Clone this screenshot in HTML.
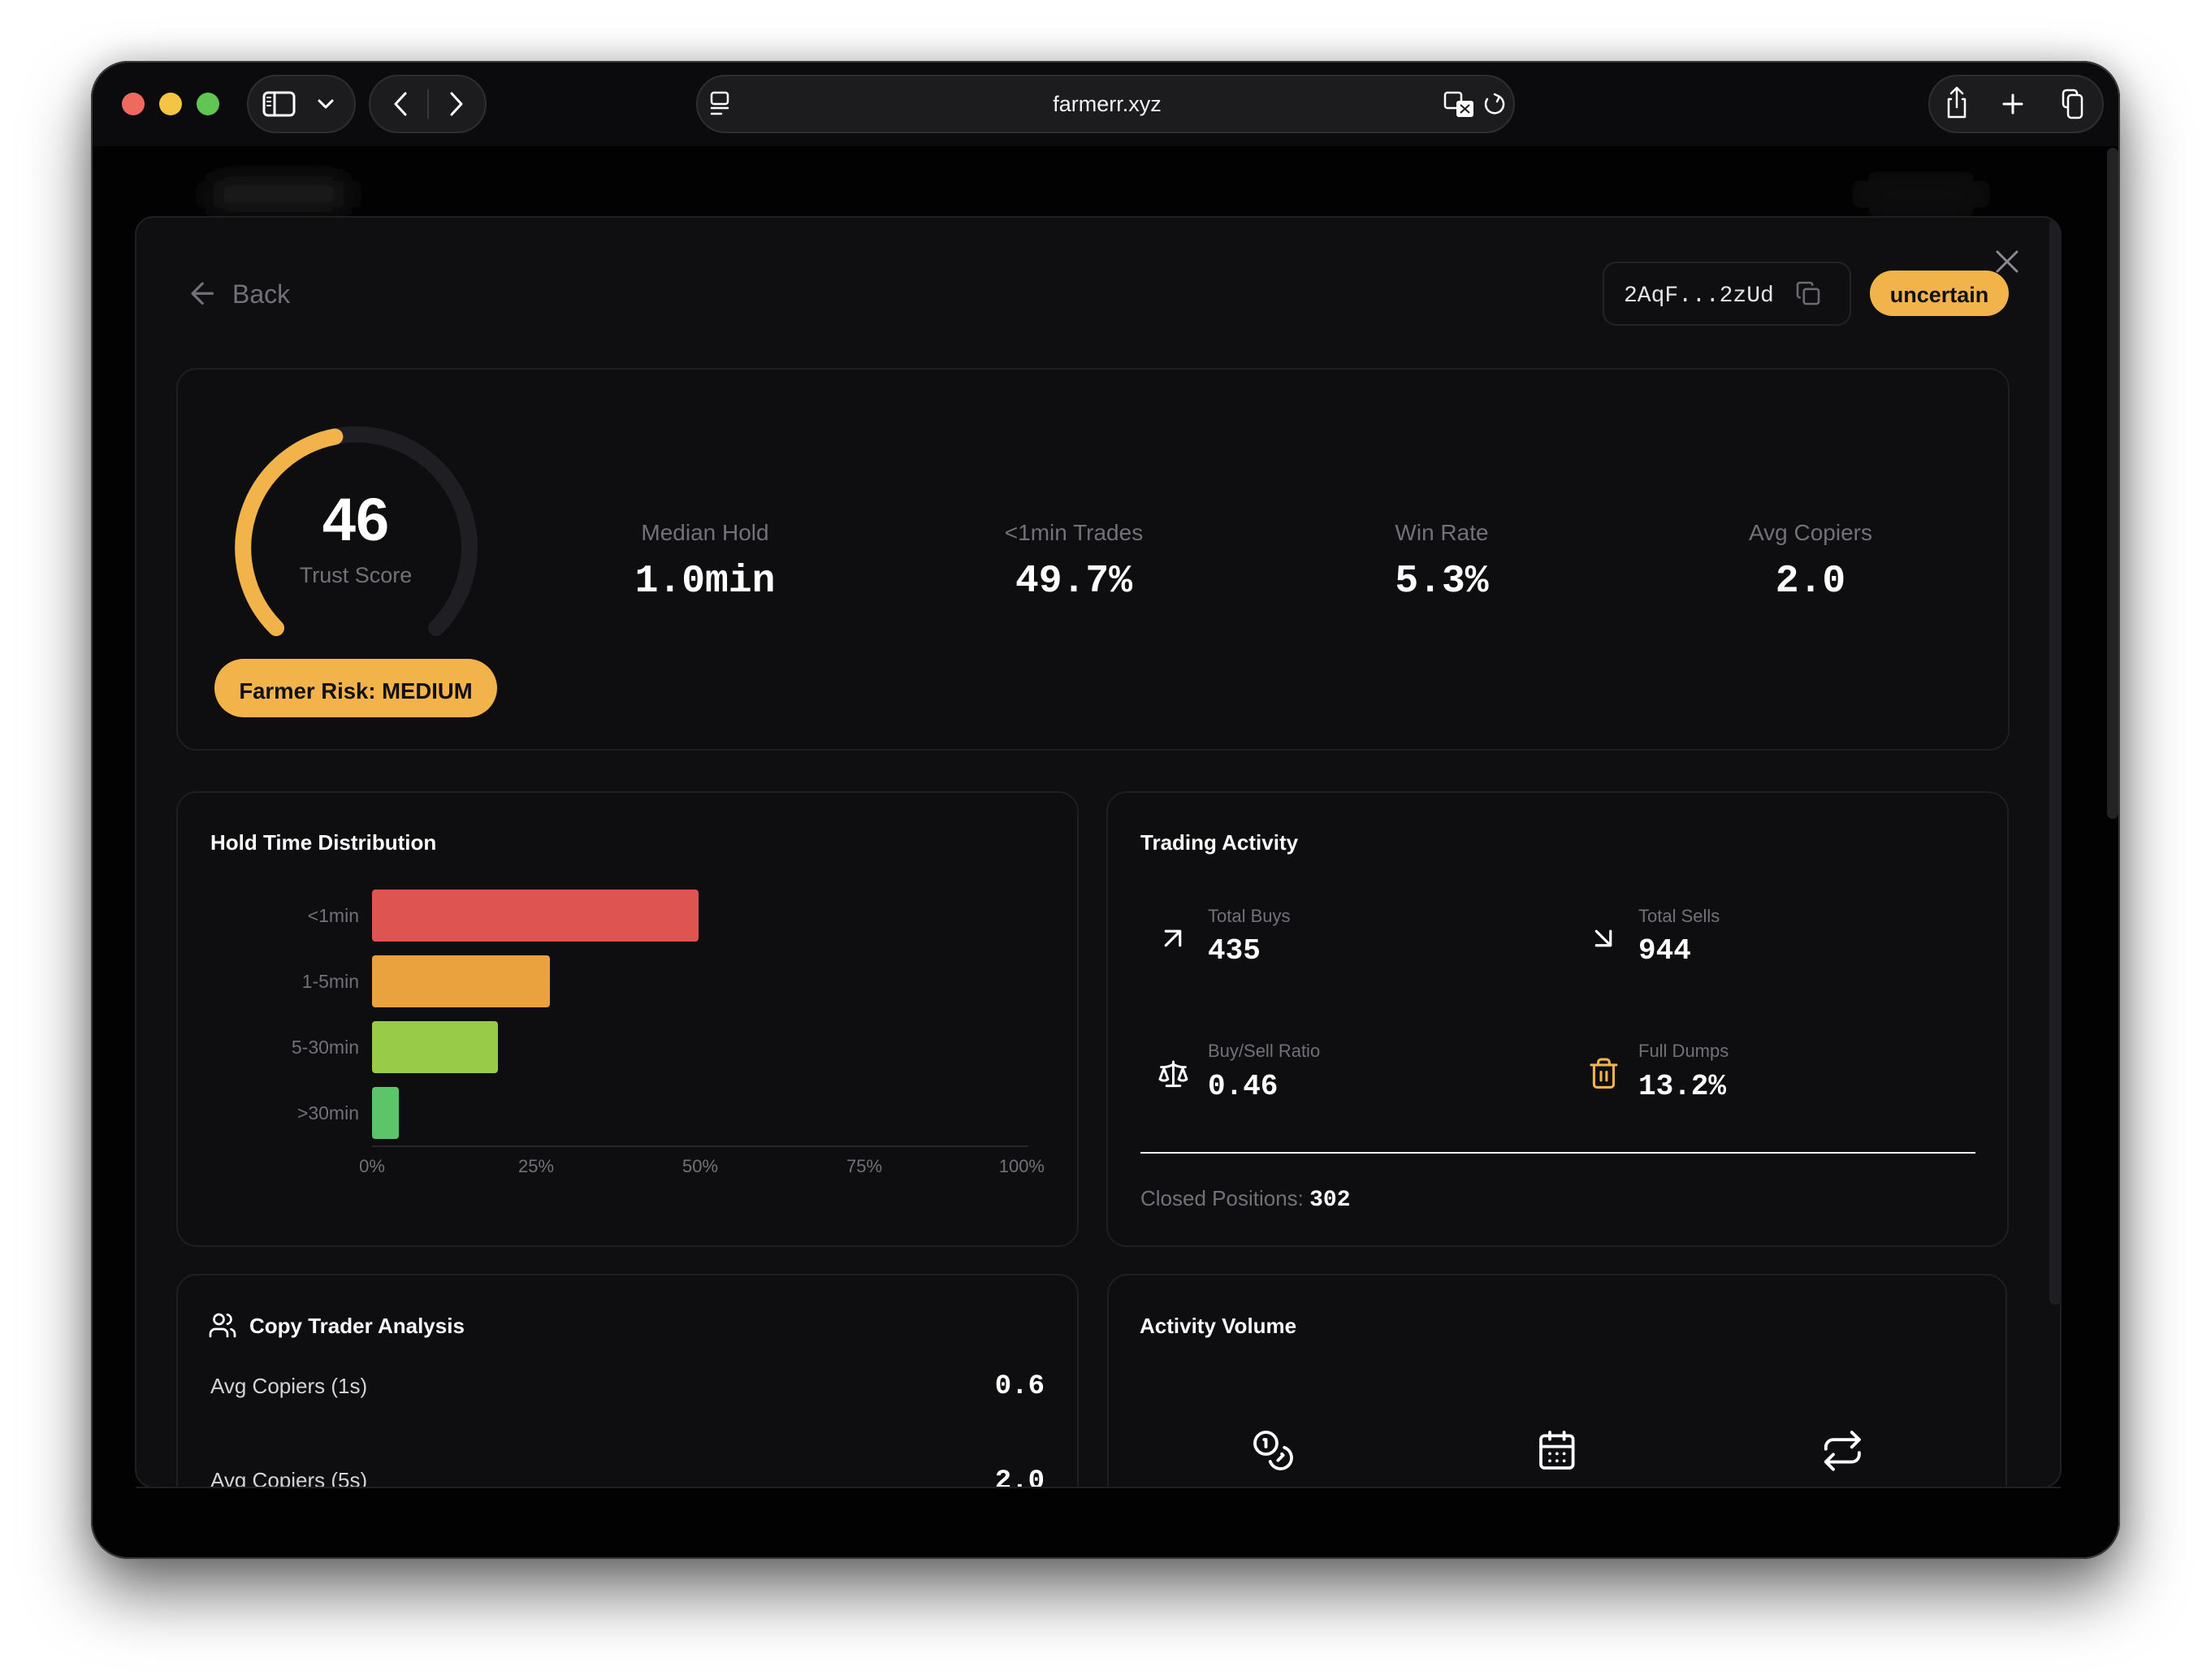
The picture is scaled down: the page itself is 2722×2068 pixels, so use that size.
<!DOCTYPE html>
<html><head><meta charset="utf-8">
<style>
html,body{margin:0;padding:0;background:#fff;width:2722px;height:2068px;overflow:hidden}
#sh{position:absolute;left:112px;top:75px;width:2498px;height:1844px;border-radius:46px;background:#000;box-shadow:0 42px 80px rgba(0,0,0,.55),0 0 40px rgba(0,0,0,.22)}
svg{position:absolute;left:0;top:0}
text{font-family:"Liberation Sans",Arial,sans-serif}
.m{font-family:"Liberation Mono","DejaVu Sans Mono",monospace;font-weight:700}
.mn{font-family:"Liberation Mono","DejaVu Sans Mono",monospace;font-weight:400}
.lab{fill:#71717a}
.ic{fill:none;stroke:#fff;stroke-linecap:round;stroke-linejoin:round}
</style></head><body>
<div id="sh"></div>
<svg width="2722" height="2068" viewBox="0 0 2722 2068" xmlns="http://www.w3.org/2000/svg">
<defs>
 <clipPath id="win"><rect x="112" y="75" width="2498" height="1844" rx="46"/></clipPath>
 <clipPath id="modal"><rect x="167" y="267" width="2370" height="1564" rx="22"/></clipPath>
 <filter id="bl" x="-50%" y="-150%" width="200%" height="400%"><feGaussianBlur stdDeviation="16"/></filter>
</defs>
<g clip-path="url(#win)">
 <rect x="112" y="75" width="2498" height="1844" fill="#020202"/>
 <rect x="112" y="75" width="2498" height="105" fill="#0b0b0d"/>
 <!-- traffic lights -->
 <circle cx="164" cy="128" r="14" fill="#ee6a5e"/>
 <circle cx="210" cy="128" r="14" fill="#f5c443"/>
 <circle cx="256" cy="128" r="14" fill="#61c454"/>
 <!-- sidebar pill -->
 <rect x="305" y="93" width="132" height="70" rx="35" fill="#1c1c1e" stroke="#2e2e30" stroke-width="2"/>
 <rect x="325" y="114" width="37" height="28" rx="5" class="ic" stroke-width="3"/>
 <line x1="338" y1="114" x2="338" y2="142" class="ic" stroke-width="3"/>
 <line x1="329" y1="120" x2="333" y2="120" class="ic" stroke-width="2"/>
 <line x1="329" y1="125" x2="333" y2="125" class="ic" stroke-width="2"/>
 <line x1="329" y1="130" x2="333" y2="130" class="ic" stroke-width="2"/>
 <polyline points="393,124 401,132 409,124" class="ic" stroke-width="3"/>
 <!-- nav pill -->
 <rect x="455" y="93" width="143" height="70" rx="35" fill="#1c1c1e" stroke="#2e2e30" stroke-width="2"/>
 <polyline points="499,115 487,128 499,141" class="ic" stroke-width="3"/>
 <line x1="527" y1="110" x2="527" y2="146" stroke="#38383a" stroke-width="2"/>
 <polyline points="556,115 568,128 556,141" class="ic" stroke="#6b6b6e" stroke-width="3"/>
 <!-- address pill -->
 <rect x="858" y="93" width="1006" height="70" rx="35" fill="#1c1c1e" stroke="#2e2e30" stroke-width="2"/>
 <rect x="876" y="114" width="20" height="14" rx="3" class="ic" stroke-width="2.5"/>
 <line x1="876" y1="133" x2="896" y2="133" class="ic" stroke-width="2.5"/>
 <line x1="876" y1="140" x2="888" y2="140" class="ic" stroke-width="2.5"/>
 <text x="1363" y="137" font-size="27" fill="#f2f2f2" text-anchor="middle">farmerr.xyz</text>
 <rect x="1779" y="114" width="20" height="19" rx="3" class="ic" stroke-width="2.5"/>
 <rect x="1793" y="124" width="21" height="20" rx="3" fill="#fff"/>
 <path d="M1798 139 l11 -10 M1798 129 l11 10" stroke="#1c1c1e" stroke-width="2"/>
 <path d="M1846 119 A11 11 0 1 1 1831 122" class="ic" stroke-width="2.5"/>
 <polyline points="1840,116 1846,119 1843,125" class="ic" stroke-width="2.5"/>
 <!-- right pill -->
 <rect x="2375" y="93" width="214" height="70" rx="35" fill="#1c1c1e" stroke="#2e2e30" stroke-width="2"/>
 <path d="M2402 122 h-3 v22 h20 v-22 h-3" class="ic" stroke-width="2.5"/>
 <path d="M2409 132 V108 M2402 115 l7 -7 l7 7" class="ic" stroke-width="2.5"/>
 <path d="M2467 128 h22 M2478 117 v22" class="ic" stroke-width="3"/>
 <rect x="2540" y="111" width="17" height="21" rx="4" class="ic" stroke-width="2.5"/>
 <rect x="2546" y="117" width="17" height="28" rx="4" fill="#1c1c1e" stroke="#fff" stroke-width="2.5"/>

 <!-- blurred header behind -->
 <rect x="258" y="222" width="170" height="34" rx="10" fill="#242424" filter="url(#bl)"/>
 <rect x="2290" y="222" width="150" height="34" rx="10" fill="#121212" filter="url(#bl)"/>

 <!-- outer scrollbar -->
 <rect x="2594" y="182" width="14" height="826" rx="7" fill="#232326"/>

 <!-- modal -->
 <rect x="167" y="267" width="2370" height="1564" rx="22" fill="#0f0f11" stroke="#1f1f23" stroke-width="2"/>
 <g clip-path="url(#modal)">
  <rect x="2523" y="268" width="15" height="1338" rx="7" fill="#1e1e22"/>

  <!-- back -->
  <g transform="translate(228.25,340.25) scale(1.75)"><path d="m12 19-7-7 7-7M19 12H5" fill="none" stroke="#71717a" stroke-width="1.8" stroke-linecap="round" stroke-linejoin="round"/></g>
  <text x="286" y="373" font-size="32" class="lab">Back</text>

  <!-- address chip -->
  <rect x="1974" y="323" width="304" height="77" rx="16" fill="#0f0f11" stroke="#232327" stroke-width="2"/>
  <text x="1999" y="371" font-size="28" fill="#e4e4e7" class="mn">2AqF...2zUd</text>
  <g transform="translate(2210.4,345.4) scale(1.3)" fill="none" stroke="#6b6b73" stroke-width="2" stroke-linecap="round" stroke-linejoin="round"><rect x="8" y="8" width="14" height="14" rx="2"/><path d="M4 16c-1.1 0-2-.9-2-2V4c0-1.1.9-2 2-2h10c1.1 0 2 .9 2 2"/></g>

  <!-- uncertain -->
  <rect x="2302" y="333" width="171" height="56" rx="28" fill="#f2b44a"/>
  <text x="2387.5" y="372" font-size="27" font-weight="700" fill="#111" text-anchor="middle">uncertain</text>
  <path d="M2459 310 L2483 334 M2483 310 L2459 334" stroke="#8a8a90" stroke-width="3" stroke-linecap="round"/>

  <!-- stats card -->
  <rect x="218" y="454" width="2255" height="469" rx="24" fill="#0e0e10" stroke="#1f1f23" stroke-width="2"/>
  <path d="M340 773 A139.5 139.5 0 1 1 537 773" fill="none" stroke="#1f1f23" stroke-width="20" stroke-linecap="round"/>
  <path d="M340 773 A139.5 139.5 0 0 1 412.4 537.5" fill="none" stroke="#f2b44a" stroke-width="20" stroke-linecap="round"/>
  <text x="438" y="665" font-size="74" font-weight="700" fill="#fff" text-anchor="middle">46</text>
  <text x="438" y="717" font-size="27" class="lab" text-anchor="middle">Trust Score</text>
  <rect x="264" y="811" width="348" height="72" rx="36" fill="#f2b44a"/>
  <text x="438" y="860" font-size="27.5" font-weight="700" fill="#111" text-anchor="middle">Farmer Risk: MEDIUM</text>

  <text x="868" y="665" font-size="28" class="lab" text-anchor="middle">Median Hold</text>
  <text x="868" y="728" font-size="48" class="m" fill="#fff" text-anchor="middle">1.0min</text>
  <text x="1322" y="665" font-size="28" class="lab" text-anchor="middle">&lt;1min Trades</text>
  <text x="1322" y="728" font-size="48" class="m" fill="#fff" text-anchor="middle">49.7%</text>
  <text x="1775" y="665" font-size="28" class="lab" text-anchor="middle">Win Rate</text>
  <text x="1775" y="728" font-size="48" class="m" fill="#fff" text-anchor="middle">5.3%</text>
  <text x="2229" y="665" font-size="28" class="lab" text-anchor="middle">Avg Copiers</text>
  <text x="2229" y="728" font-size="48" class="m" fill="#fff" text-anchor="middle">2.0</text>

  <!-- hold time card -->
  <rect x="218" y="975" width="1109" height="559" rx="24" fill="#0e0e10" stroke="#1f1f23" stroke-width="2"/>
  <text x="259" y="1046" font-size="26" font-weight="700" fill="#fafafa">Hold Time Distribution</text>
  <rect x="458" y="1095" width="402" height="64" rx="4" fill="#de5450"/>
  <rect x="458" y="1176" width="219" height="64" rx="4" fill="#e9a23d"/>
  <rect x="458" y="1257" width="155" height="64" rx="4" fill="#98cb48"/>
  <rect x="458" y="1338" width="33" height="64" rx="4" fill="#5cc56a"/>
  <text x="442" y="1135" font-size="23" class="lab" text-anchor="end">&lt;1min</text>
  <text x="442" y="1216" font-size="23" class="lab" text-anchor="end">1-5min</text>
  <text x="442" y="1297" font-size="23" class="lab" text-anchor="end">5-30min</text>
  <text x="442" y="1378" font-size="23" class="lab" text-anchor="end">&gt;30min</text>
  <line x1="458" y1="1411" x2="1266" y2="1411" stroke="#27272a" stroke-width="2"/>
  <text x="458" y="1443" font-size="22" class="lab" text-anchor="middle">0%</text>
  <text x="660" y="1443" font-size="22" class="lab" text-anchor="middle">25%</text>
  <text x="862" y="1443" font-size="22" class="lab" text-anchor="middle">50%</text>
  <text x="1064" y="1443" font-size="22" class="lab" text-anchor="middle">75%</text>
  <text x="1286" y="1443" font-size="22" class="lab" text-anchor="end">100%</text>

  <!-- trading activity card -->
  <rect x="1363" y="975" width="1109" height="559" rx="24" fill="#0e0e10" stroke="#1f1f23" stroke-width="2"/>
  <text x="1404" y="1046" font-size="26" font-weight="700" fill="#fafafa">Trading Activity</text>
  <g transform="translate(1423,1134) scale(1.75)" class="ic" stroke-width="1.8"><path d="M7 7h10v10M7 17 17 7"/></g>
  <text x="1487" y="1135" font-size="22" class="lab">Total Buys</text>
  <text x="1487" y="1180" font-size="36" class="m" fill="#fff">435</text>
  <g transform="translate(1953,1134) scale(1.75)" class="ic" stroke-width="1.8"><path d="M7 7l10 10M17 7v10H7"/></g>
  <text x="2017" y="1135" font-size="22" class="lab">Total Sells</text>
  <text x="2017" y="1180" font-size="36" class="m" fill="#fff">944</text>
  <g transform="translate(1424.7,1302) scale(1.65)" class="ic" stroke-width="1.8"><path d="m16 16 3-8 3 8c-.87.65-1.92 1-3 1s-2.13-.35-3-1Z"/><path d="m2 16 3-8 3 8c-.87.65-1.92 1-3 1s-2.13-.35-3-1Z"/><path d="M7 21h10M12 3v18M3 7h2c2 0 5-1 7-2 2 1 5 2 7 2h2"/></g>
  <text x="1487" y="1301" font-size="22" class="lab">Buy/Sell Ratio</text>
  <text x="1487" y="1347" font-size="36" class="m" fill="#fff">0.46</text>
  <g transform="translate(1953.8,1300.6) scale(1.72)" fill="none" stroke="#f2b44a" stroke-width="1.8" stroke-linecap="round" stroke-linejoin="round"><path d="M3 6h18M19 6v14c0 1-1 2-2 2H7c-1 0-2-1-2-2V6M8 6V4c0-1 1-2 2-2h4c1 0 2 1 2 2v2M10 11v6M14 11v6"/></g>
  <text x="2017" y="1301" font-size="22" class="lab">Full Dumps</text>
  <text x="2017" y="1347" font-size="36" class="m" fill="#fff">13.2%</text>
  <rect x="1404" y="1418" width="1028" height="2" fill="#f4f4f5"/>
  <text x="1404" y="1484" font-size="26" class="lab">Closed Positions: <tspan class="m" font-size="28" fill="#fff">302</tspan></text>

  <!-- copy trader card -->
  <rect x="218" y="1569" width="1109" height="400" rx="24" fill="#0e0e10" stroke="#1f1f23" stroke-width="2"/>
  <g transform="translate(256,1613.5) scale(1.5)" class="ic" stroke-width="1.8"><path d="M16 21v-2a4 4 0 0 0-4-4H6a4 4 0 0 0-4 4v2"/><circle cx="9" cy="7" r="4"/><path d="M22 21v-2a4 4 0 0 0-3-3.87M16 3.13a4 4 0 0 1 0 7.75"/></g>
  <text x="307" y="1641" font-size="26" font-weight="700" fill="#fafafa">Copy Trader Analysis</text>
  <text x="259" y="1715" font-size="26" fill="#d4d4d8">Avg Copiers (1s)</text>
  <text x="1286" y="1715" font-size="34" class="m" fill="#fff" text-anchor="end">0.6</text>
  <text x="259" y="1831" font-size="26" fill="#d4d4d8">Avg Copiers (5s)</text>
  <text x="1286" y="1832" font-size="34" class="m" fill="#fff" text-anchor="end">2.0</text>

  <!-- activity volume card -->
  <rect x="1364" y="1569" width="1106" height="400" rx="24" fill="#0e0e10" stroke="#1f1f23" stroke-width="2"/>
  <text x="1403" y="1641" font-size="26" font-weight="700" fill="#fafafa">Activity Volume</text>
  <g transform="translate(1540.5,1758.5) scale(2.25)" class="ic" stroke-width="1.7"><circle cx="8" cy="8" r="6"/><path d="M18.09 10.37A6 6 0 1 1 10.34 18M7 6h1v4M16.71 13.88l.7.71-2.82 2.82"/></g>
  <g transform="translate(1890.4,1758.6) scale(2.2)" class="ic" stroke-width="1.7"><path d="M8 2v4M16 2v4"/><rect x="3" y="4" width="18" height="18" rx="2"/><path d="M3 10h18"/><path d="M8 14h.01M12 14h.01M16 14h.01M8 18h.01M12 18h.01M16 18h.01"/></g>
  <g transform="translate(2241,1758.5) scale(2.28)" class="ic" stroke-width="1.7"><path d="m17 2 4 4-4 4M3 11v-1a4 4 0 0 1 4-4h14M7 22l-4-4 4-4M21 13v1a4 4 0 0 1-4 4H3"/></g>
 </g>
 <line x1="167" y1="1831" x2="2537" y2="1831" stroke="#1f1f23" stroke-width="2"/>
</g>
<rect x="113" y="76" width="2496" height="1842" rx="45" fill="none" stroke="#3a3a3c" stroke-width="2"/>
</svg>
</body></html>
